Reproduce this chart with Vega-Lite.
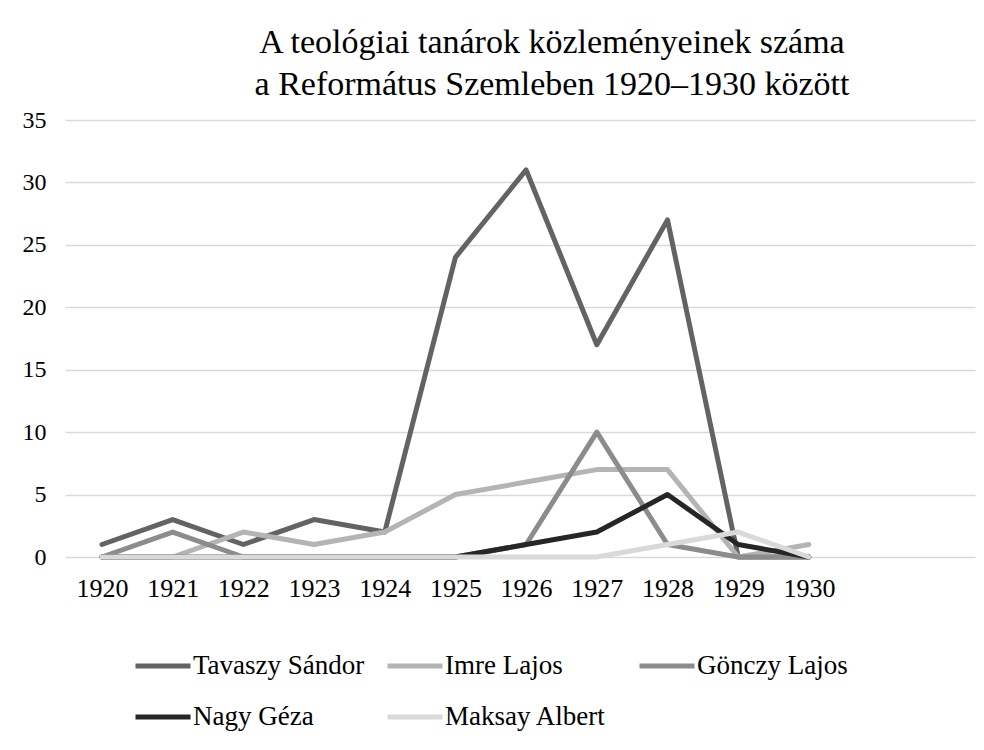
{
  "$schema": "https://vega.github.io/schema/vega-lite/v6.json",
  "width": 910,
  "height": 437,
  "autosize": "none",
  "padding": {"left": 65, "top": 120, "right": 9, "bottom": 193},
  "background": "white",
  "title": {
    "text": ["A teológiai tanárok közleményeinek száma", "a Református Szemleben 1920–1930 között"],
    "anchor": "middle",
    "dx": 32,
    "offset": 6,
    "font": "Liberation Serif",
    "fontSize": 34,
    "fontWeight": "normal",
    "color": "#000000",
    "lineHeight": 42
  },
  "data": {
    "values": [
      {"year": 1920, "author": "Tavaszy Sándor", "count": 1},
      {"year": 1921, "author": "Tavaszy Sándor", "count": 3},
      {"year": 1922, "author": "Tavaszy Sándor", "count": 1},
      {"year": 1923, "author": "Tavaszy Sándor", "count": 3},
      {"year": 1924, "author": "Tavaszy Sándor", "count": 2},
      {"year": 1925, "author": "Tavaszy Sándor", "count": 24},
      {"year": 1926, "author": "Tavaszy Sándor", "count": 31},
      {"year": 1927, "author": "Tavaszy Sándor", "count": 17},
      {"year": 1928, "author": "Tavaszy Sándor", "count": 27},
      {"year": 1929, "author": "Tavaszy Sándor", "count": 0},
      {"year": 1930, "author": "Tavaszy Sándor", "count": 0},
      {"year": 1920, "author": "Imre Lajos", "count": 0},
      {"year": 1921, "author": "Imre Lajos", "count": 0},
      {"year": 1922, "author": "Imre Lajos", "count": 2},
      {"year": 1923, "author": "Imre Lajos", "count": 1},
      {"year": 1924, "author": "Imre Lajos", "count": 2},
      {"year": 1925, "author": "Imre Lajos", "count": 5},
      {"year": 1926, "author": "Imre Lajos", "count": 6},
      {"year": 1927, "author": "Imre Lajos", "count": 7},
      {"year": 1928, "author": "Imre Lajos", "count": 7},
      {"year": 1929, "author": "Imre Lajos", "count": 0},
      {"year": 1930, "author": "Imre Lajos", "count": 1},
      {"year": 1920, "author": "Gönczy Lajos", "count": 0},
      {"year": 1921, "author": "Gönczy Lajos", "count": 2},
      {"year": 1922, "author": "Gönczy Lajos", "count": 0},
      {"year": 1923, "author": "Gönczy Lajos", "count": 0},
      {"year": 1924, "author": "Gönczy Lajos", "count": 0},
      {"year": 1925, "author": "Gönczy Lajos", "count": 0},
      {"year": 1926, "author": "Gönczy Lajos", "count": 1},
      {"year": 1927, "author": "Gönczy Lajos", "count": 10},
      {"year": 1928, "author": "Gönczy Lajos", "count": 1},
      {"year": 1929, "author": "Gönczy Lajos", "count": 0},
      {"year": 1930, "author": "Gönczy Lajos", "count": 0},
      {"year": 1920, "author": "Nagy Géza", "count": 0},
      {"year": 1921, "author": "Nagy Géza", "count": 0},
      {"year": 1922, "author": "Nagy Géza", "count": 0},
      {"year": 1923, "author": "Nagy Géza", "count": 0},
      {"year": 1924, "author": "Nagy Géza", "count": 0},
      {"year": 1925, "author": "Nagy Géza", "count": 0},
      {"year": 1926, "author": "Nagy Géza", "count": 1},
      {"year": 1927, "author": "Nagy Géza", "count": 2},
      {"year": 1928, "author": "Nagy Géza", "count": 5},
      {"year": 1929, "author": "Nagy Géza", "count": 1},
      {"year": 1930, "author": "Nagy Géza", "count": 0},
      {"year": 1920, "author": "Maksay Albert", "count": 0},
      {"year": 1921, "author": "Maksay Albert", "count": 0},
      {"year": 1922, "author": "Maksay Albert", "count": 0},
      {"year": 1923, "author": "Maksay Albert", "count": 0},
      {"year": 1924, "author": "Maksay Albert", "count": 0},
      {"year": 1925, "author": "Maksay Albert", "count": 0},
      {"year": 1926, "author": "Maksay Albert", "count": 0},
      {"year": 1927, "author": "Maksay Albert", "count": 0},
      {"year": 1928, "author": "Maksay Albert", "count": 1},
      {"year": 1929, "author": "Maksay Albert", "count": 2},
      {"year": 1930, "author": "Maksay Albert", "count": 0}
    ]
  },
  "mark": {"type": "line", "strokeWidth": 5, "strokeCap": "round", "strokeJoin": "round"},
  "encoding": {
    "x": {
      "field": "year",
      "type": "quantitative",
      "scale": {"domain": [1919.477, 1932.35], "nice": false, "zero": false},
      "axis": {
        "title": null,
        "values": [1920, 1921, 1922, 1923, 1924, 1925, 1926, 1927, 1928, 1929, 1930],
        "format": "d",
        "grid": false,
        "ticks": false,
        "domain": false,
        "labelPadding": 18,
        "labelFont": "Liberation Serif",
        "labelFontSize": 26,
        "labelColor": "#000000"
      }
    },
    "y": {
      "field": "count",
      "type": "quantitative",
      "scale": {"domain": [0, 35], "nice": false},
      "axis": {
        "title": null,
        "values": [0, 5, 10, 15, 20, 25, 30, 35],
        "grid": true,
        "gridColor": "#d9d9d9",
        "gridWidth": 1.5,
        "ticks": false,
        "domain": false,
        "labelPadding": 19,
        "labelFont": "Liberation Serif",
        "labelFontSize": 24,
        "labelColor": "#000000"
      }
    },
    "color": {
      "field": "author",
      "type": "nominal",
      "sort": ["Tavaszy Sándor", "Imre Lajos", "Gönczy Lajos", "Nagy Géza", "Maksay Albert"],
      "scale": {
        "domain": ["Tavaszy Sándor", "Imre Lajos", "Gönczy Lajos", "Nagy Géza", "Maksay Albert"],
        "range": ["#636363", "#b4b4b4", "#8c8c8c", "#262626", "#d9d9d9"]
      },
      "legend": {
        "title": null,
        "orient": "none",
        "legendX": 68,
        "legendY": 516,
        "direction": "horizontal",
        "columns": 3,
        "gridAlign": "all",
        "columnPadding": 12,
        "rowPadding": 8,
        "symbolType": "stroke",
        "symbolSize": 3025,
        "symbolStrokeWidth": 5,
        "labelOffset": 0,
        "labelFont": "Liberation Serif",
        "labelFontSize": 27,
        "labelColor": "#000000",
        "labelLimit": 400
      }
    }
  },
  "config": {"view": {"stroke": null}}
}
